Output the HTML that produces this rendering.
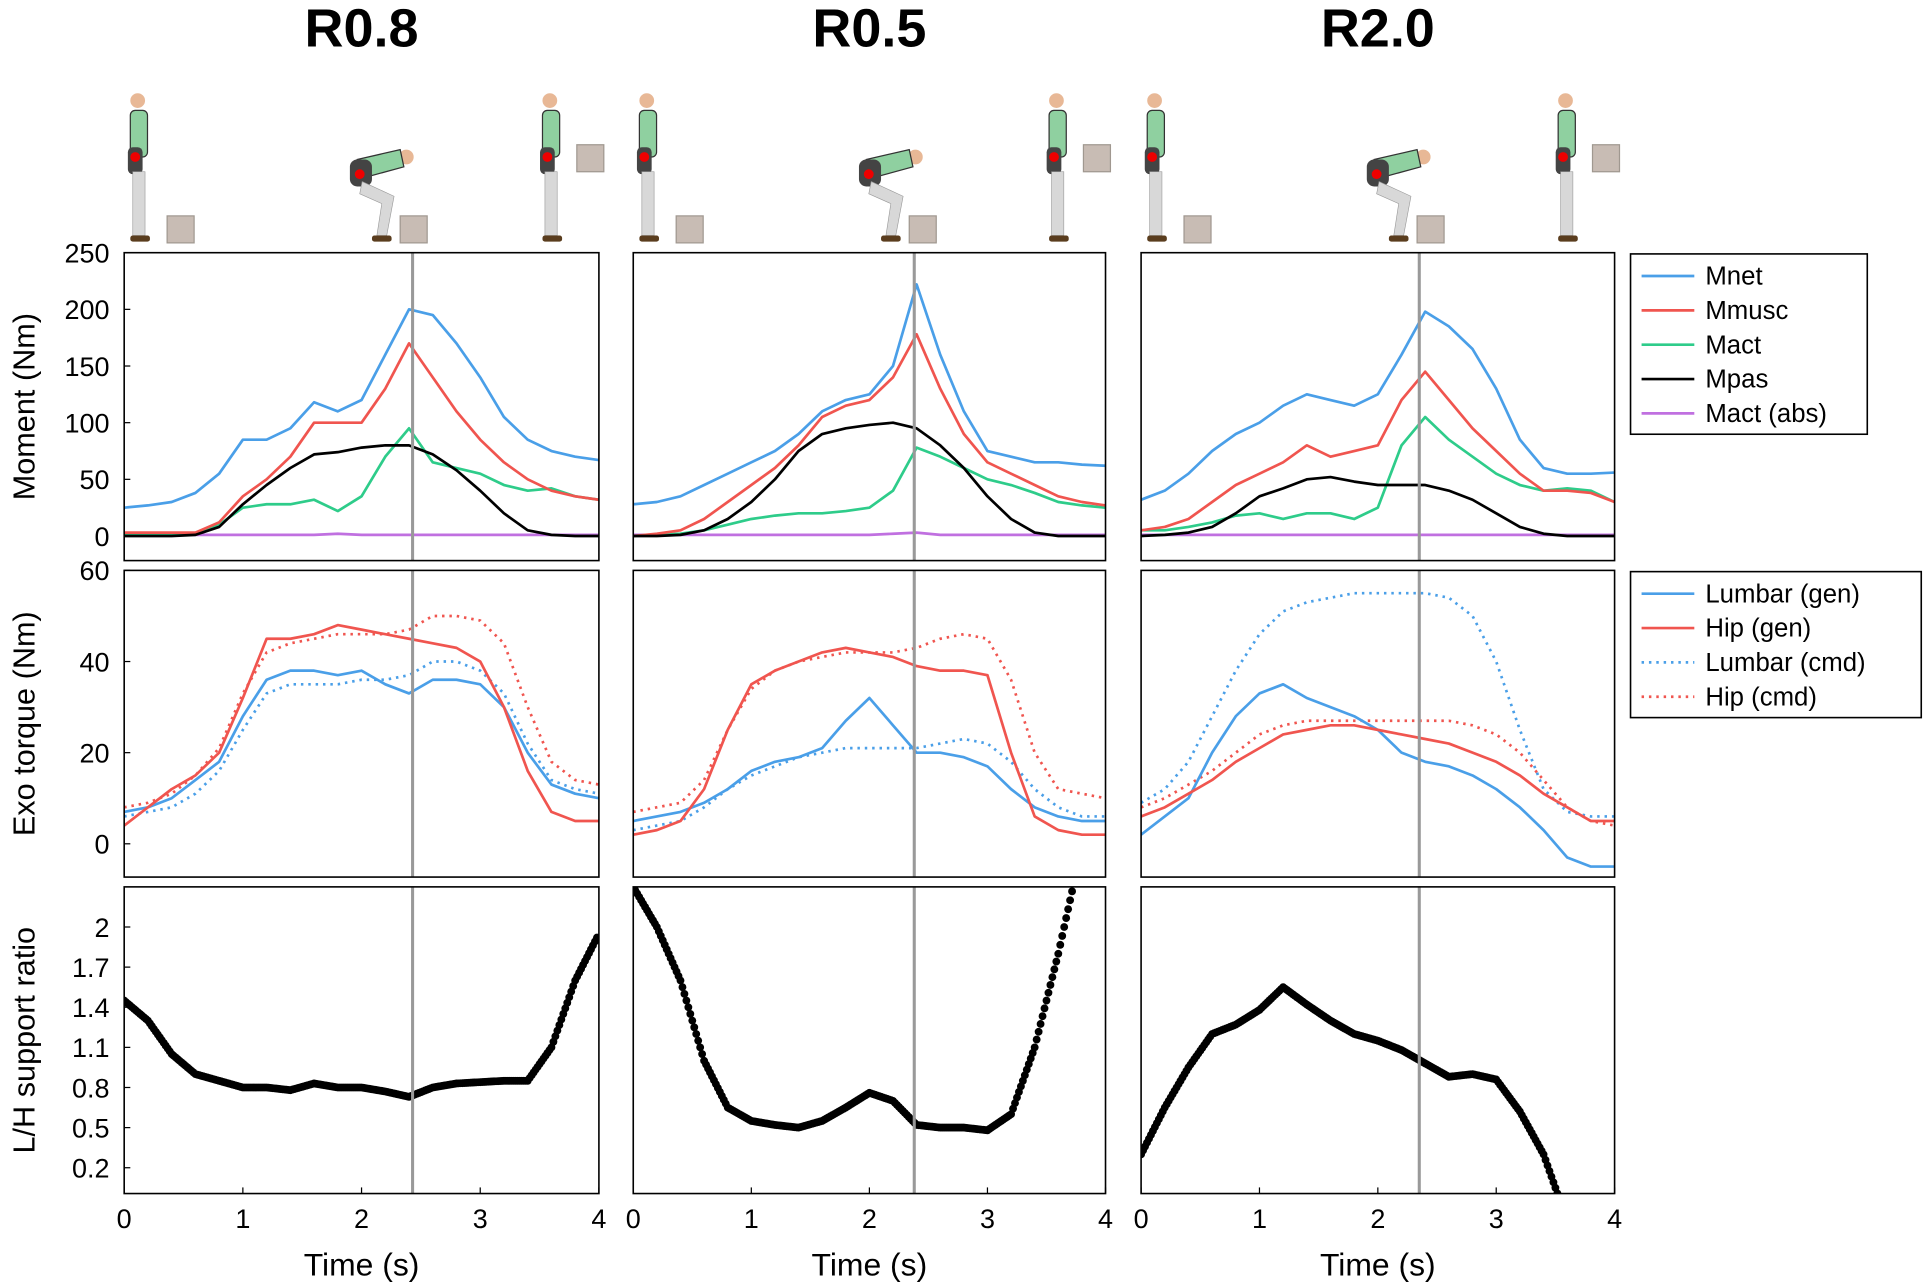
<!DOCTYPE html>
<html><head><meta charset="utf-8"><style>
html,body{margin:0;padding:0;background:#fff}
svg{display:block}
text{font-family:"Liberation Sans",Arial,sans-serif;fill:#000}
</style></head><body>
<svg id="fig" width="1924" height="1288" viewBox="0 0 1568 1050" xmlns="http://www.w3.org/2000/svg"></svg>
<script>
const T=[0,0.2,0.4,0.6,0.8,1.0,1.2,1.4,1.6,1.8,2.0,2.2,2.4,2.6,2.8,3.0,3.2,3.4,3.6,3.8,4.0];
const titles=["R0.8","R0.5","R2.0"];
const peakTimes=[2.43,2.38,2.35];
const momentTicks=[0,50,100,150,200,250];
const torqueTicks=[0,20,40,60];
const ratioTicks=[0.2,0.5,0.8,1.1,1.4,1.7,2];
const timeTicks=[0,1,2,3,4];
// Moments
const mnet=[[25,27,30,38,55,85,85,95,118,110,120,160,200,195,170,140,105,85,75,70,67],
[28,30,35,45,55,65,75,90,110,120,125,150,222,160,110,75,70,65,65,63,62],
[32,40,55,75,90,100,115,125,120,115,125,160,198,185,165,130,85,60,55,55,56]];
const mmusc=[[3,3,3,3,12,35,50,70,100,100,100,130,170,140,110,85,65,50,40,35,32],
[0,2,5,15,30,45,60,80,105,115,120,140,178,130,90,65,55,45,35,30,27],
[5,8,15,30,45,55,65,80,70,75,80,120,145,120,95,75,55,40,40,38,30]];
const mact=[[2,2,2,2,10,25,28,28,32,22,35,70,95,65,60,55,45,40,42,35,32],
[0,1,2,5,10,15,18,20,20,22,25,40,78,70,60,50,45,38,30,27,25],
[5,5,8,12,18,20,15,20,20,15,25,80,105,85,70,55,45,40,42,40,30]];
const mpas=[[0,0,0,1,8,28,45,60,72,74,78,80,80,72,58,40,20,5,1,0,0],
[0,0,1,5,15,30,50,75,90,95,98,100,95,80,60,35,15,3,0,0,0],
[0,1,3,8,20,35,42,50,52,48,45,45,45,40,32,20,8,2,0,0,0]];
const mabs=[[1,1,1,1,1,1,1,1,1,2,1,1,1,1,1,1,1,1,1,1,1],
[1,1,1,1,1,1,1,1,1,1,1,2,3,1,1,1,1,1,1,1,1],
[1,1,1,1,1,1,1,1,1,1,1,1,1,1,1,1,1,1,1,1,1]];
// Exo torques
const lumGen=[[7,8,10,14,18,28,36,38,38,37,38,35,33,36,36,35,30,20,13,11,10],
[5,6,7,9,12,16,18,19,21,27,32,26,20,20,19,17,12,8,6,5,5],
[2,6,10,20,28,33,35,32,30,28,25,20,18,17,15,12,8,3,-3,-5,-5]];
const hipGen=[[4,8,12,15,20,32,45,45,46,48,47,46,45,44,43,40,30,16,7,5,5],
[2,3,5,12,25,35,38,40,42,43,42,41,39,38,38,37,20,6,3,2,2],
[6,8,11,14,18,21,24,25,26,26,25,24,23,22,20,18,15,11,8,5,5]];
const lumCmd=[[6,7,8,11,16,25,33,35,35,35,36,36,37,40,40,38,33,22,14,12,11],
[3,4,5,8,12,15,17,19,20,21,21,21,21,22,23,22,18,12,8,6,6],
[9,12,18,28,38,46,51,53,54,55,55,55,55,54,50,40,25,12,7,6,6]];
const hipCmd=[[8,9,11,15,21,33,42,44,45,46,46,46,47,50,50,49,44,30,18,14,13],
[7,8,9,14,25,34,38,40,41,42,42,42,43,45,46,45,36,20,12,11,10],
[8,10,13,16,20,24,26,27,27,27,27,27,27,27,26,24,20,14,8,5,4]];
// Ratio
const ratio=[[1.45,1.3,1.05,0.9,0.85,0.8,0.8,0.78,0.83,0.8,0.8,0.77,0.73,0.8,0.83,0.84,0.85,0.85,1.1,1.6,1.95],
[2.3,2.0,1.6,1.0,0.65,0.55,0.52,0.5,0.55,0.65,0.76,0.7,0.52,0.5,0.5,0.48,0.6,1.1,1.8,2.6,3.0],
[0.3,0.65,0.95,1.2,1.27,1.38,1.55,1.42,1.3,1.2,1.15,1.08,0.98,0.88,0.9,0.86,0.62,0.3,-0.2,-0.5,-0.5]];

const NS="http://www.w3.org/2000/svg";
const svg=document.getElementById('fig');
function mk(tag,attrs,parent){const e=document.createElementNS(NS,tag);for(const k in attrs)e.setAttribute(k,attrs[k]);(parent||svg).appendChild(e);return e;}
const colX=[[101,488],[516,901],[930,1316]];
const rows=[{top:206,bot:457,ymin:-21.7,ymax:250,ticks:momentTicks,label:"Moment (Nm)"},
{top:465,bot:715,ymin:-7.3,ymax:60,ticks:torqueTicks,label:"Exo torque (Nm)"},
{top:723,bot:973,ymin:0.007,ymax:2.3,ticks:ratioTicks,label:"L/H support ratio"}];
const BLUE="#4a9fe8",RED="#f0554f",GREEN="#2ecc8a",PURPLE="#c070e0";

function figure(x,y,bent,c){
  const g=mk('g',{transform:`translate(${x},${y})`});
  
  
  if(!bent){
    mk('circle',{cx:8,cy:-118,r:6,fill:'#e8b896'},g);
    mk('rect',{x:2,y:-110,width:14,height:38,rx:4,fill:'#8fd0a0',stroke:'#333','stroke-width':1},g);
    mk('rect',{x:0,y:-80,width:12,height:22,rx:4,fill:'#444'},g);
    mk('circle',{cx:6,cy:-72,r:4,fill:'#e00'},g);
    mk('rect',{x:4,y:-60,width:10,height:52,fill:'#d8d8d8',stroke:'#999','stroke-width':0.5},g);
    mk('rect',{x:2,y:-8,width:16,height:5,rx:2,fill:'#5a3d1e'},g);
  } else {
    mk('circle',{cx:50,cy:-72,r:6,fill:'#e8b896'},g);
    mk('path',{d:'M10,-70 L45,-78 L48,-64 L15,-55 Z',fill:'#8fd0a0',stroke:'#333','stroke-width':1},g);
    mk('rect',{x:4,y:-70,width:18,height:22,rx:6,fill:'#444'},g);
    mk('circle',{cx:12,cy:-58,r:4,fill:'#e00'},g);
    mk('path',{d:'M14,-52 L40,-40 L34,-8 L26,-8 L30,-34 L12,-42 Z',fill:'#d8d8d8',stroke:'#999','stroke-width':0.5},g);
    mk('rect',{x:22,y:-8,width:16,height:5,rx:2,fill:'#5a3d1e'},g);
  }
  return g;
}
function box(x,y){const b=mk('rect',{x:x,y:y,width:22,height:22,fill:'#c8bcb4',stroke:'#a09890','stroke-width':1});
}

for(let c=0;c<3;c++){
  const [x0,x1]=colX[c];
  const sx=t=>x0+(t/4)*(x1-x0);
  const tt=mk('text',{x:(x0+x1)/2,y:38,'text-anchor':'middle','font-size':44,'font-weight':'bold'});
  tt.textContent=titles[c];
  
  
  figure(x0+3,200,false,c);box(x0+35,176);
  figure(x0+180,200,true,c);box(x0+225,176);
  figure(x1-48,200,false,c);box(x1-18,118);
  for(let r=0;r<3;r++){
    const R=rows[r];
    const sy=v=>R.bot-(v-R.ymin)/(R.ymax-R.ymin)*(R.bot-R.top);
    const g=mk('g',{});
    
    
    const cid='clip'+c+r;
    const cp=mk('clipPath',{id:cid},g);mk('rect',{x:x0,y:R.top,width:x1-x0,height:R.bot-R.top},cp);
    const plot=mk('g',{'clip-path':`url(#${cid})`},g);
    function line(arr,col,dash,name){
      const p=mk('polyline',{points:T.map((t,i)=>sx(t)+','+sy(arr[i])).join(' '),fill:'none',stroke:col,'stroke-width':2.2,'stroke-dasharray':dash||'none','stroke-linejoin':'round'},plot);
      
      
    }
    if(r===0){
      line(mabs[c],PURPLE,null,'mact-abs-line');
      line(mact[c],GREEN,null,'mact-line');
      line(mmusc[c],RED,null,'mmusc-line');
      line(mnet[c],BLUE,null,'mnet-line');
      line(mpas[c],'#000',null,'mpas-line');
    } else if(r===1){
      line(lumCmd[c],BLUE,'2,4','lumbar-cmd-line');
      line(hipCmd[c],RED,'2,4','hip-cmd-line');
      line(lumGen[c],BLUE,null,'lumbar-gen-line');
      line(hipGen[c],RED,null,'hip-gen-line');
    } else {
      const d=ratio[c];
      for(let i=0;i<T.length-1;i++){
        for(let k=0;k<12;k++){
          const f=k/12;const t=T[i]+(T[i+1]-T[i])*f;const v=d[i]+(d[i+1]-d[i])*f;
          const dot=mk('circle',{cx:sx(t),cy:sy(v),r:3.2,fill:'#000'},plot);
          
          
        }
      }
    }
    const vl=mk('line',{x1:sx(peakTimes[c]),x2:sx(peakTimes[c]),y1:R.top,y2:R.bot,stroke:'#999','stroke-width':2.5},g);
    
    
    mk('rect',{x:x0,y:R.top,width:x1-x0,height:R.bot-R.top,fill:'none',stroke:'#000','stroke-width':1.3},g);
    if(c===0){
      R.ticks.forEach(v=>{
        const y=sy(v);
        mk('line',{x1:x0,x2:x0+5,y1:y,y2:y,stroke:'#000'},g);
        const tx=mk('text',{x:x0-12,y:y+8,'text-anchor':'end','font-size':22});tx.textContent=String(v);
        
        
      });
      const yl=mk('text',{x:0,y:0,transform:`translate(28,${(R.top+R.bot)/2}) rotate(-90)`,'text-anchor':'middle','font-size':25});
      yl.textContent=R.label;
      
      
    }
    if(r===2){
      timeTicks.forEach(v=>{
        const x=sx(v);
        mk('line',{x1:x,x2:x,y1:R.bot,y2:R.bot-5,stroke:'#000'},g);
        const tx=mk('text',{x:x,y:R.bot+28,'text-anchor':'middle','font-size':22});tx.textContent=String(v);
        
        
      });
      const xl=mk('text',{x:(x0+x1)/2,y:1040,'text-anchor':'middle','font-size':26});
      xl.textContent="Time (s)";
      
      
    }
  }
}
function legend(x,y,w,items,name){
  const g=mk('g',{});
  
  
  mk('rect',{x:x,y:y,width:w,height:items.length*28+7,fill:'#fff',stroke:'#000','stroke-width':1.3},g);
  items.forEach((it,i)=>{
    const yy=y+18+i*28;
    const l=mk('line',{x1:x+9,x2:x+52,y1:yy,y2:yy,stroke:it[1],'stroke-width':2.2,'stroke-dasharray':it[2]||'none'},g);
    
    
    const t=mk('text',{x:x+61,y:yy+7,'font-size':21},g);t.textContent=it[0];
    
    
  });
}
legend(1329,207,193,[["Mnet",BLUE],["Mmusc",RED],["Mact",GREEN],["Mpas","#000"],["Mact (abs)",PURPLE]],'moment-legend');
legend(1329,466,237,[["Lumbar (gen)",BLUE],["Hip (gen)",RED],["Lumbar (cmd)",BLUE,"2,4"],["Hip (cmd)",RED,"2,4"]],'torque-legend');
</script>
</body></html>
